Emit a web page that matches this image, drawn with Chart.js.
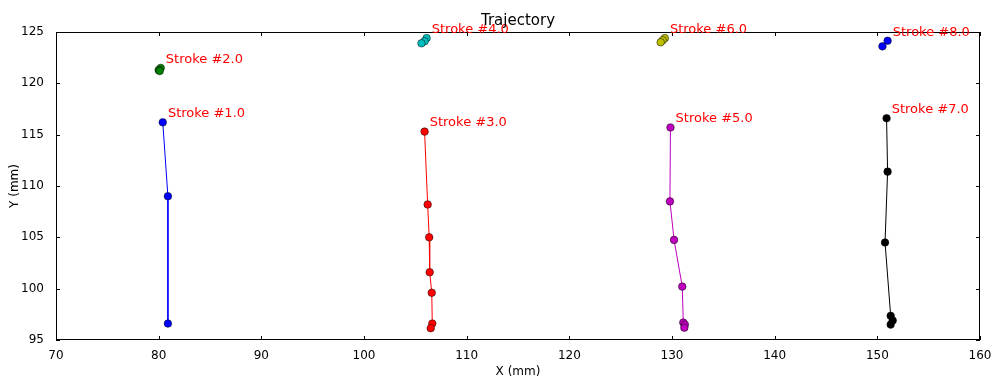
<!DOCTYPE html>
<html>
<head>
<meta charset="utf-8">
<script src="https://cdn.jsdelivr.net/npm/chart.js@4/dist/chart.umd.min.js"></script>
<style>
  html, body { margin: 0; padding: 0; background: #fff; }
  #wrap { width: 995px; height: 379px; }
</style>
</head>
<body>
<div id="wrap"><canvas id="trajChart"></canvas></div>
<script>
const ctx = document.getElementById('trajChart');

//Prepare data
var strokeNames = ['Stroke #1.0', 'Stroke #2.0', 'Stroke #3.0', 'Stroke #4.0',
                   'Stroke #5.0', 'Stroke #6.0', 'Stroke #7.0', 'Stroke #8.0'];
var strokeColors = ['#0000ff', '#008000', '#ff0000', '#00bfbf',
                    '#bf00bf', '#bfbf00', '#000000', '#0000ff'];
var stroke1X = [80.4, 80.9, 80.9];
var stroke1Y = [116.2, 109.0, 96.6];
var stroke2X = [80.2, 80.0, 80.1];
var stroke2Y = [121.5, 121.3, 121.2];
var stroke3X = [105.9, 106.2, 106.35, 106.4, 106.6, 106.65, 106.5];
var stroke3Y = [115.3, 108.2, 105.0, 101.6, 99.6, 96.6, 96.15];
var stroke4X = [106.1, 105.9, 105.6];
var stroke4Y = [124.4, 124.1, 123.9];
var stroke5X = [129.85, 129.8, 130.2, 131.0, 131.1, 131.25, 131.2];
var stroke5Y = [115.7, 108.5, 104.75, 100.2, 96.7, 96.5, 96.2];
var stroke6X = [129.3, 129.1, 128.9];
var stroke6Y = [124.4, 124.2, 124.0];
var stroke7X = [150.9, 151.0, 150.75, 151.3, 151.5, 151.3];
var stroke7Y = [116.6, 111.4, 104.5, 97.35, 96.9, 96.5];
var stroke8X = [151.0, 150.5];
var stroke8Y = [124.15, 123.6];
var xTicks = [70, 80, 90, 100, 110, 120, 130, 140, 150, 160];
var yTicks = [95, 100, 105, 110, 115, 120, 125];

var allX = [stroke1X, stroke2X, stroke3X, stroke4X, stroke5X, stroke6X, stroke7X, stroke8X];
var allY = [stroke1Y, stroke2Y, stroke3Y, stroke4Y, stroke5Y, stroke6Y, stroke7Y, stroke8Y];

var datasets = strokeNames.map(function (name, i) {
    return {
        label: name,
        data: allX[i].map(function (x, j) { return {x: x, y: allY[i][j]}; }),
        showLine: true,
        borderColor: strokeColors[i],
        borderWidth: 1,
        pointBackgroundColor: strokeColors[i],
        pointBorderColor: '#000',
        pointBorderWidth: 0.5,
        pointRadius: 3.8
    };
});

var font = 'DejaVu Sans';

//Inward ticks on all four sides, title and stroke labels
var decorPlugin = {
    id: 'decor',
    afterDatasetsDraw: function (chart) {
        var c = chart.ctx, a = chart.chartArea;
        var xs = chart.scales.x, ys = chart.scales.y;
        c.save();
        c.strokeStyle = '#000';
        c.lineWidth = 1;
        c.beginPath();
        xTicks.forEach(function (v) {
            var px = Math.round(xs.getPixelForValue(v)) + 0.5;
            c.moveTo(px, a.bottom); c.lineTo(px, a.bottom - 4);
            c.moveTo(px, a.top); c.lineTo(px, a.top + 4);
        });
        yTicks.forEach(function (v) {
            var py = Math.round(ys.getPixelForValue(v)) + 0.5;
            c.moveTo(a.left, py); c.lineTo(a.left + 4, py);
            c.moveTo(a.right, py); c.lineTo(a.right - 4, py);
        });
        c.stroke();
        c.strokeRect(a.left + 0.5, a.top + 0.5, a.right - a.left - 1, a.bottom - a.top - 1);

        c.fillStyle = '#ff0000';
        c.font = '13px "' + font + '"';
        c.textAlign = 'left';
        c.textBaseline = 'alphabetic';
        strokeNames.forEach(function (name, i) {
            var px = xs.getPixelForValue(allX[i][0] + 0.5);
            var py = ys.getPixelForValue(allY[i][0] + 0.5);
            c.fillText(name, px, py);
        });

        c.fillStyle = '#000';
        c.font = '15px "' + font + '"';
        c.textAlign = 'center';
        c.fillText('Trajectory', (a.left + a.right) / 2, 25);
        c.restore();
    }
};

//Create chart
new Chart(ctx, {
    type: 'scatter',
    data: { datasets: datasets },
    plugins: [decorPlugin],
    options: {
        responsive: true,
        maintainAspectRatio: false,
        animation: false,
        layout: { padding: { top: 32, right: 15, left: 0, bottom: 0 } },
        plugins: {
            legend: { display: false },
            tooltip: { enabled: false }
        },
        scales: {
            x: {
                type: 'linear',
                min: 70,
                max: 160,
                afterBuildTicks: function (s) { s.ticks = xTicks.map(function (v) { return {value: v}; }); },
                afterFit: function (s) { s.height = 39; },
                grid: { display: false },
                border: { display: false },
                ticks: { color: '#000', padding: 1, font: { family: font, size: 12 } },
                title: { display: true, text: 'X (mm)', color: '#000', padding: 0, font: { family: font, size: 12 } }
            },
            y: {
                type: 'linear',
                min: 95,
                max: 125,
                afterBuildTicks: function (s) { s.ticks = yTicks.map(function (v) { return {value: v}; }); },
                afterFit: function (s) { s.width = 56; },
                grid: { display: false },
                border: { display: false },
                ticks: { color: '#000', padding: 4, font: { family: font, size: 12 } },
                title: { display: true, text: 'Y (mm)', color: '#000', padding: { top: 8, bottom: 0 }, font: { family: font, size: 12 } }
            }
        }
    }
});
</script>
</body>
</html>
